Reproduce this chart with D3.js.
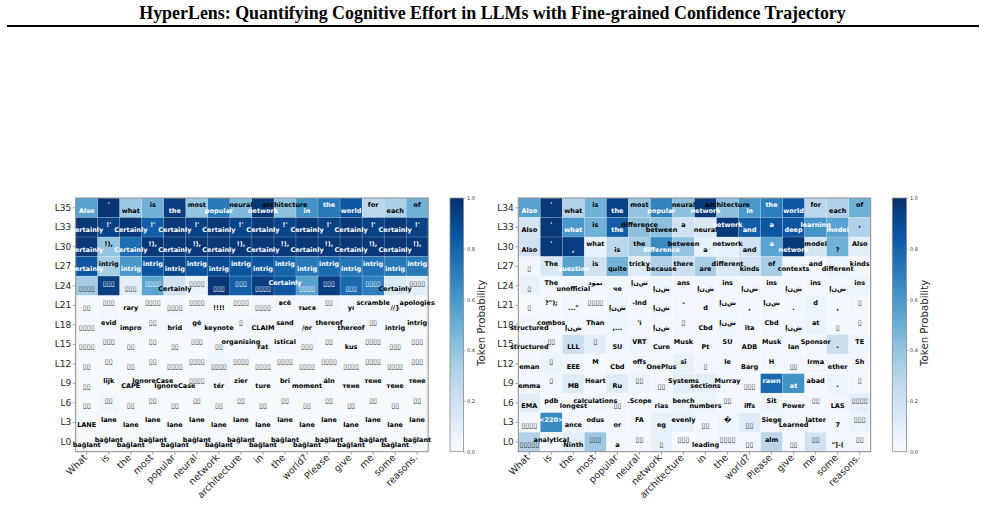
<!DOCTYPE html>
<html>
<head>
<meta charset="utf-8">
<script src="https://cdn.jsdelivr.net/npm/d3@7/dist/d3.min.js"></script>
<style>
  html, body { margin: 0; padding: 0; background: #fff; }
  svg { display: block; }
  text { font-family: "DejaVu Sans", sans-serif; }
  .cell-label { unicode-bidi: bidi-override; direction: ltr; }
</style>
</head>
<body>
<svg id="figure" width="985" height="519"></svg>
<script>
const pageTitle = "HyperLens: Quantifying Cognitive Effort in LLMs with Fine-grained Confidence Trajectory";
const colorbarTitle = "Token Probability";
const colorbarTicks = [0, 0.2, 0.4, 0.6, 0.8, 1];

// Prompt tokens along the x axis (shared by both heatmaps)
const promptTokens = ["What","is","the","most","popular","neural","network","architecture","in","the","world?","Please","give","me","some","reasons."];

// Boxes stand for glyphs the font could not draw; INCH is the Arabic token drawn unshaped
const INCH = "\uFE87\uFEE5\uFEB5";

const leftLayers = ["L35","L33","L30","L27","L24","L21","L18","L15","L12","L9","L6","L3","L0"];
const leftTokens = [
  ["Also","'","what","is","the","most","popular","neural","network","architecture","in","the","world","for","each","of"],
  ["Certainly","!'","Certainly","!'","Certainly","!'","Certainly","!'","Certainly","!'","Certainly","!'","Certainly","!'","Certainly","!'"],
  ["Certainly","!),","Certainly","!),","Certainly","!),","Certainly","!),","Certainly","!),","Certainly","!),","Certainly","!),","Certainly","!),"],
  ["Certainly","intrig","intrig","intrig","intrig","intrig","intrig","intrig","intrig","intrig","intrig","intrig","intrig","intrig","intrig","intrig"],
  ["▯▯▯▯","▯▯▯","▯▯▯","▯▯▯▯","Certainly","▯▯▯▯","▯▯▯","▯▯▯","▯▯▯▯","Certainly","▯▯▯▯","▯▯▯","▯▯▯","▯▯▯▯","Certainly","▯▯▯▯"],
  ["▯▯","▯▯▯","rary","▯▯▯▯","▯▯▯▯","▯▯▯▯","!!!!","▯▯▯▯","▯▯▯▯","всё","тыся","▯▯","уı","scramble","//}","apologies"],
  ["▯▯▯▯","evid","impro","▯▯","brid","gé","keynote","▯","CLAIM","sand","/or","thereof","thereof","▯▯","intrig","intrig"],
  ["▯▯▯▯","▯▯▯","▯▯","▯▯","▯▯","▯▯▯","▯▯","organising","rat","istical","▯▯▯","▯▯","kus","▯▯▯▯","▯▯▯","▯▯▯"],
  ["▯▯","▯▯","▯▯","▯▯","▯▯▯▯","▯▯▯▯","▯▯▯▯","▯▯▯▯","▯▯▯▯","▯▯▯▯","▯▯▯▯","▯▯▯▯","▯▯▯▯","▯▯▯▯","▯▯▯▯","▯▯▯"],
  ["▯▯","lijk","CAPE","IgnoreCase","IgnoreCase","▯▯▯▯","tér","zier","ture","bri","moment","áln","тене","тене","тене","тене"],
  ["▯▯","▯▯","▯▯","▯▯","▯▯","▯▯","▯▯","▯▯","▯▯","▯▯","▯▯","▯▯","▯▯","▯▯","▯▯","▯▯"],
  ["LANE","lane","lane","lane","lane","lane","lane","lane","lane","lane","lane","lane","lane","lane","lane","lane"],
  ["bağlant","bağlant","bağlant","bağlant","bağlant","bağlant","bağlant","bağlant","bağlant","bağlant","bağlant","bağlant","bağlant","bağlant","bağlant","bağlant"]
];
const leftProbs = [
  [.56,.98,.38,.48,.95,.40,.72,.45,.97,.42,.62,.72,.85,.28,.33,.49],
  [.97,.93,.97,.82,.97,.93,.97,.92,.97,.92,.97,.93,.97,.93,.97,.93],
  [.97,.40,.76,.97,.97,.97,.97,.97,.97,.97,.97,.97,.97,.97,.97,.97],
  [.85,.35,.60,.86,.92,.86,.90,.86,.86,.80,.72,.78,.74,.75,.72,.72],
  [.36,.94,.10,.55,.20,.06,.97,.82,.95,.85,.56,.95,.78,.70,.15,.10],
  [.01,.02,.01,.01,.03,.02,.01,.01,.03,.02,.02,.03,.02,.01,.01,.01],
  [.02,.02,.02,.02,.02,.02,.02,.02,.03,.03,.03,.03,.04,.02,.02,.01],
  [.01,.02,.01,.01,.01,.01,.02,.02,.02,.03,.02,.01,.01,.01,.01,.01],
  [.01,.01,.01,.01,.01,.01,.04,.02,.01,.01,.01,.01,.01,.01,.01,.01],
  [.01,.01,.01,.01,.01,.01,.02,.01,.01,.01,.01,.01,.01,.01,.01,.01],
  [.01,.03,.01,.01,.01,.01,.01,.01,.01,.01,.01,.01,.01,.01,.01,.01],
  [.01,.01,.01,.01,.01,.01,.01,.01,.01,.01,.01,.01,.01,.01,.01,.01],
  [.01,.01,.01,.01,.01,.01,.01,.01,.01,.01,.01,.01,.01,.01,.01,.01]
];

const rightLayers = ["L34","L33","L30","L27","L24","L21","L18","L15","L12","L9","L6","L3","L0"];
const rightTokens = [
  ["Also","'","what","is","the","most","popular","neural","network","architecture","in","the","world","for","each","of"],
  ["Also","'","what","is","the","difference","between","a","neural","network","and","a","deep","learning","model",","],
  ["Also","'",",","what","is","the","difference","between","a","network","and","a","network","model","?","Also"],
  ["▯","The","question","is","quite","tricky","because","there","are","different","kinds","of","contexts","and","different","kinds"],
  ["▯","The","unofficial","دومن","че",INCH,INCH,"ans",INCH,"ins",INCH,"ins",INCH,"ins",INCH,"ins"],
  ["▯","?\");","...\"","▯▯▯▯",INCH,"-Ind",INCH,"-","d",INCH,",",INCH,".","d",",","▯"],
  ["structured","combos",INCH,"Than",",...","'ì",INCH,"▯","Cbd",INCH,"ita","Cbd",INCH,"at","▯","▯"],
  ["structured","▯▯","LLL","▯","SU","VRT","Cure","Musk","Pt","SU","ADB","Musk","lan","Sponsor","-","TE"],
  ["eman","▯","EEE","M","Cbd","offs","OnePlus","si","▯","le","Barg","H","▯▯","Irma","ether","Sh"],
  ["emma","▯","MB","Heart","Ru","▯▯","▯▯","Systems","sections","Murray","▯▯▯","rawn","at","abad","-","▯"],
  ["EMA","pdb","longest","calculations","▯▯",".Scope","rias","bench","numbers","▯▯","iffs","Sit","Power","▯▯","LAS","▯▯▯▯"],
  ["▯▯▯▯","<220>","ance","odus","or","FA","eg","evenly","▯▯","�","▯▯","Siege","Learned","latter","7","▯▯▯"],
  ["▯▯▯▯▯","analytical","Ninth","▯▯▯","a","▯▯","▯","▯▯▯","leading","▯▯▯▯","▯▯","alm","▯▯","▯▯","\"]-(","▯▯"]
];
const rightProbs = [
  [.56,.97,.30,.48,.93,.40,.68,.42,.97,.42,.60,.70,.85,.28,.32,.49],
  [.18,.97,.60,.48,.82,.42,.42,.20,.15,.97,.82,.85,.85,.62,.55,.32],
  [.20,.97,.95,.08,.28,.35,.66,.40,.08,.08,.20,.55,.97,.18,.48,.10],
  [.03,.15,.56,.20,.48,.12,.32,.22,.35,.15,.20,.35,.02,.02,.06,.02],
  [.07,.03,.03,.03,.04,.03,.04,.02,.03,.02,.03,.03,.02,.03,.02,.05],
  [.01,.01,.02,.01,.04,.02,.03,.02,.02,.02,.02,.02,.03,.06,.02,.02],
  [.03,.02,.02,.03,.05,.02,.02,.02,.02,.04,.02,.02,.03,.06,.02,.03],
  [.03,.03,.22,.10,.02,.05,.02,.03,.02,.02,.02,.02,.02,.02,.22,.05],
  [.03,.06,.05,.01,.03,.03,.02,.08,.03,.03,.03,.02,.03,.03,.03,.02],
  [.03,.03,.12,.02,.12,.05,.03,.10,.10,.03,.02,.78,.62,.02,.06,.03],
  [.10,.02,.02,.03,.03,.02,.02,.06,.06,.02,.02,.05,.02,.02,.03,.10],
  [.03,.65,.03,.02,.03,.02,.08,.08,.03,.04,.12,.03,.03,.02,.02,.06],
  [.32,.02,.10,.38,.02,.02,.08,.01,.02,.03,.03,.28,.03,.20,.02,.03]
];

// Blues colour ramp, nine stops evenly spaced over 0..1
const blues = ["#f7fbff","#deebf7","#c6dbef","#9ecae1","#6baed6","#4292c6","#2171b5","#08519c","#08306b"];
const color = d3.scaleLinear().domain(blues.map((_, i) => i / (blues.length - 1))).range(blues);

const svg = d3.select("#figure");
const axisGray = "#8c8c8c";

svg.append("text").attr("x", 492.5).attr("y", 19).attr("text-anchor", "middle")
  .style("font-family", '"Liberation Serif", serif').style("font-weight", "bold")
  .style("font-size", "17.9px").attr("fill", "#000").text(pageTitle);
svg.append("line").attr("x1", 7).attr("x2", 979).attr("y1", 26).attr("y2", 26)
  .attr("stroke", "#000").attr("stroke-width", 2);

function drawHeatmap(box, layers, tokens, probs) {
  const x = d3.scaleBand().domain(d3.range(promptTokens.length)).range([box.left, box.right]);
  const y = d3.scaleBand().domain(layers).range([box.top, box.bottom]);
  const g = svg.append("g");

  // Heat cells
  const rows = tokens.map((row, r) => row.map((token, c) => ({ r, c, token, p: probs[r][c] }))).flat();
  g.append("g").selectAll("rect").data(rows).join("rect")
    .attr("x", d => x(d.c)).attr("y", d => y(layers[d.r]))
    .attr("width", x.bandwidth()).attr("height", y.bandwidth())
    .attr("fill", d => color(d.p))
    .attr("stroke", "#fff").attr("stroke-opacity", 0.35).attr("stroke-width", 0.4);

  // Axes with the tick labels in the same dark grey as the figure text
  const xAxis = g.append("g").attr("transform", `translate(0,${box.bottom})`)
    .call(d3.axisBottom(x).tickSize(3).tickFormat(i => promptTokens[i]));
  xAxis.selectAll("text")
    .style("font-size", "9.5px").attr("fill", "#262626")
    .attr("text-anchor", "end").attr("x", -3.9).attr("y", -0.4).attr("dy", "0.6em")
    .attr("transform", "rotate(-45)");
  const yAxis = g.append("g").attr("transform", `translate(${box.left},0)`)
    .call(d3.axisLeft(y).tickSize(3).tickPadding(1.5));
  yAxis.selectAll("text").style("font-size", "9px").attr("fill", "#262626");
  g.selectAll(".domain").remove();
  g.selectAll(".tick line").attr("stroke", axisGray).attr("stroke-width", 0.8);

  g.append("rect").attr("x", box.left).attr("y", box.top)
    .attr("width", box.right - box.left).attr("height", box.bottom - box.top)
    .attr("fill", "none").attr("stroke", axisGray).attr("stroke-width", 1);

  // Token labels, staggered up and down by column
  const isBoxed = d => d.token.includes("▯");
  g.append("g").selectAll("text").data(rows).join("text")
    .attr("class", "cell-label")
    .attr("x", d => x(d.c) + x.bandwidth() / 2)
    .attr("y", d => y(layers[d.r]) + y.bandwidth() / 2 + (d.c % 2 ? -2.6 : 2.6))
    .attr("dy", "0.35em").attr("text-anchor", "middle")
    .style("font-size", d => isBoxed(d) ? "7.2px" : "6.5px")
    .style("font-weight", d => isBoxed(d) ? "normal" : "bold")
    .attr("fill", d => d.p > 0.5 ? "#fff" : (isBoxed(d) ? "#333" : "#000"))
    .text(d => d.token);

  // Colour bar
  const cb = d3.scaleLinear().domain([0, 1]).range([box.bottom, box.top]);
  const cbg = g.append("g");
  cbg.selectAll("rect").data(d3.range(0, 1, 1 / 254)).join("rect")
    .attr("x", box.barLeft).attr("width", box.barRight - box.barLeft)
    .attr("y", d => cb(d + 1 / 254)).attr("height", Math.abs(cb(0) - cb(1 / 254)) + 0.3)
    .attr("fill", d => color(d));
  cbg.append("rect").attr("x", box.barLeft).attr("y", box.top)
    .attr("width", box.barRight - box.barLeft).attr("height", box.bottom - box.top)
    .attr("fill", "none").attr("stroke", axisGray).attr("stroke-width", 0.8);
  const cAxis = cbg.append("g").attr("transform", `translate(${box.barRight},0)`)
    .call(d3.axisRight(cb).tickValues(colorbarTicks).tickSize(2).tickPadding(1.5).tickFormat(d3.format(".1f")));
  cAxis.select(".domain").remove();
  cAxis.selectAll("line").attr("stroke", axisGray).attr("stroke-width", 0.6);
  cAxis.selectAll("text").style("font-size", "5px").attr("fill", "#333");
  svg.append("text")
    .attr("transform", `translate(${box.barRight + 17.5},${(box.top + box.bottom) / 2 - 2}) rotate(-90)`)
    .attr("text-anchor", "middle").attr("dy", "0.35em")
    .style("font-size", "10.2px").attr("fill", "#262626").text(colorbarTitle);
}

drawHeatmap({ left: 75.7, right: 428.2, top: 198, bottom: 451.7, barLeft: 450, barRight: 463.5 },
  leftLayers, leftTokens, leftProbs);
drawHeatmap({ left: 518.3, right: 870.7, top: 198, bottom: 451.7, barLeft: 892.3, barRight: 906.5 },
  rightLayers, rightTokens, rightProbs);
</script>
</body>
</html>
